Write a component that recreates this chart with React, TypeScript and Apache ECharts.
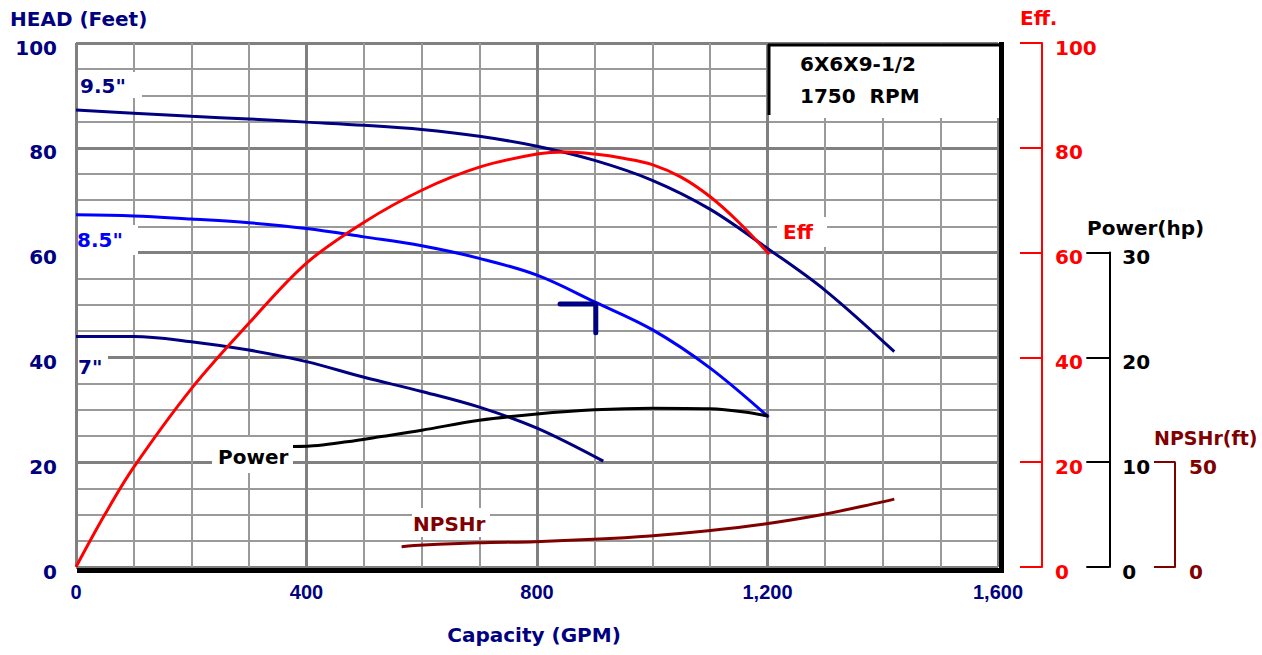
import { useEffect, useRef } from 'react';
import * as echarts from 'echarts';

// ---- data ----
const xTicks = [0, 400, 800, 1200, 1600];
const headTicks = [0, 20, 40, 60, 80, 100];

const imp95Gpm = [0, 100, 200, 300, 400, 500, 600, 700, 800, 900, 1000, 1100, 1200, 1300, 1420];
const imp95Head = [87.2, 86.6, 86.0, 85.5, 84.9, 84.3, 83.5, 82.2, 80.3, 77.6, 73.8, 68.3, 60.8, 52.8, 41.1];

const imp85Gpm = [0, 100, 200, 300, 400, 500, 600, 700, 800, 900, 1000, 1100, 1202];
const imp85Head = [67.2, 67.0, 66.4, 65.7, 64.6, 63.0, 61.3, 58.9, 55.7, 50.6, 45.3, 38.0, 28.6];

const imp7Gpm = [0, 100, 200, 300, 400, 500, 600, 700, 800, 915];
const imp7Head = [44.0, 44.0, 43.0, 41.4, 39.2, 36.2, 33.5, 30.5, 26.5, 20.2];

const effGpm = [0, 50, 100, 200, 300, 400, 500, 600, 700, 800, 850, 900, 950, 1000, 1050, 1100, 1150, 1203];
const effPct = [0, 10, 19, 34, 46.5, 58, 65.8, 71.9, 76.3, 78.8, 79.2, 78.8, 78.0, 76.8, 74.4, 70.7, 65.8, 59.7];

const powerGpm = [376, 420, 470, 530, 600, 700, 800, 900, 1000, 1100, 1160, 1201];
const powerHp = [11.5, 11.6, 11.95, 12.45, 13.05, 14.0, 14.6, 15.0, 15.15, 15.1, 14.8, 14.4];

const npshGpm = [565, 603, 698, 797, 898, 996, 1097, 1192, 1291, 1392, 1420];
const npshFt = [9.7, 10.5, 11.6, 12.1, 13.2, 14.8, 17.3, 20.4, 24.8, 30.6, 32.4];

const bepGpm = [840, 902, 902];
const bepHead = [50.2, 50.2, 44.7];

const effTicks = [0, 20, 40, 60, 80, 100];
const powerTicks = [0, 10, 20, 30];
const npshTicks = [0, 50];

// ---- styles ----
const NAVY = '#000080';
const BLUE = '#0000ff';
const RED = '#ff0000';
const DRED = '#800000';
const FONT = '"DejaVu Sans", sans-serif';
const BOLD = `bold 20px ${FONT}`;

const zip = (a: number[], b: number[]) => a.map((v, i) => [v, b[i]]);
const comma = (v: number) => String(Math.round(v)).replace(/\B(?=(\d{3})+(?!\d))/g, ',');

function App() {
  const ref = useRef<HTMLDivElement>(null);

  useEffect(() => {
    if (!ref.current) return;
    const chart = echarts.init(ref.current, undefined, { renderer: 'svg' });

    const majorLine = { show: true, lineStyle: { color: '#808080', width: 3 } };
    const minorLine = { show: true, lineStyle: { color: '#9a9a9a', width: 2 } };

    const yLabel = (color: string, margin: number) => ({
      color, fontFamily: FONT, fontWeight: 'bold', fontSize: 20, margin,
      verticalAlign: 'top', lineHeight: 9,
    });

    const whiteRect = (x: number, y: number, w: number, h: number) => ({
      type: 'rect', z: 50, shape: { x, y, width: w, height: h }, style: { fill: '#ffffff' },
    });
    const label = (text: string, x: number, y: number, color: string, align = 'left', font = BOLD) => ({
      type: 'text', z: 60, x, y,
      style: { text, fill: color, font, textAlign: align, textVerticalAlign: 'middle' },
    });

    const lineSeries = (name: string, data: number[][], color: string, yAxisIndex: number, width = 3, smooth: any = 0.35) => ({
      name, type: 'line', data, xAxisIndex: 0, yAxisIndex, symbol: 'none', smooth,
      lineStyle: { color, width }, itemStyle: { color }, z: 5,
    });

    const option: any = {
      animation: false,
      backgroundColor: '#ffffff',
      grid: [
        { left: 76, top: 43, width: 922, height: 524 },
        { left: 1000, top: 252.6, width: 109.3, height: 314.4 },
        { left: 1120, top: 462.2, width: 55, height: 104.8 },
      ],
      xAxis: [
        {
          gridIndex: 0, type: 'value', min: xTicks[0], max: xTicks[xTicks.length - 1], interval: xTicks[1] - xTicks[0],
          axisLine: { show: false }, axisTick: { show: false },
          axisLabel: { color: NAVY, fontFamily: '"Liberation Sans", Arial, sans-serif', fontWeight: 'bold', fontSize: 20, margin: 15, formatter: comma },
          splitLine: majorLine,
          minorTick: { show: false, splitNumber: 4 },
          minorSplitLine: minorLine,
        },
        { gridIndex: 1, type: 'value', show: false, min: 0, max: 1 },
        { gridIndex: 2, type: 'value', show: false, min: 0, max: 1 },
      ],
      yAxis: [
        {
          gridIndex: 0, type: 'value', position: 'left', min: headTicks[0], max: headTicks[headTicks.length - 1], interval: 20,
          axisLine: { show: false, onZero: false }, axisTick: { show: false },
          axisLabel: yLabel(NAVY, 19),
          splitLine: majorLine,
          minorTick: { show: false, splitNumber: 4 },
          minorSplitLine: minorLine,
        },
        {
          gridIndex: 0, type: 'value', position: 'right', offset: 44, min: effTicks[0], max: effTicks[effTicks.length - 1], interval: 20,
          axisLine: { show: true, onZero: false, lineStyle: { color: RED, width: 2 } },
          axisTick: { show: true, inside: true, length: 22, lineStyle: { color: RED, width: 2 } },
          axisLabel: yLabel(RED, 13),
          splitLine: { show: false },
        },
        { gridIndex: 0, type: 'value', show: false, min: 0, max: 50 },
        { gridIndex: 0, type: 'value', show: false, min: 0, max: 250 },
        {
          gridIndex: 1, type: 'value', position: 'right', min: powerTicks[0], max: powerTicks[powerTicks.length - 1], interval: 10,
          axisLine: { show: true, onZero: false, lineStyle: { color: '#000000', width: 2 } },
          axisTick: { show: true, inside: true, length: 23, lineStyle: { color: '#000000', width: 2 } },
          axisLabel: yLabel('#000000', 13),
          splitLine: { show: false },
        },
        {
          gridIndex: 2, type: 'value', position: 'right', min: npshTicks[0], max: npshTicks[npshTicks.length - 1], interval: 50,
          axisLine: { show: true, onZero: false, lineStyle: { color: DRED, width: 2 } },
          axisTick: { show: true, inside: true, length: 21, lineStyle: { color: DRED, width: 2 } },
          axisLabel: yLabel(DRED, 14),
          splitLine: { show: false },
        },
      ],
      series: [
        lineSeries('9.5"', zip(imp95Gpm, imp95Head), NAVY, 0),
        lineSeries('8.5"', zip(imp85Gpm, imp85Head), BLUE, 0),
        lineSeries('7"', zip(imp7Gpm, imp7Head), NAVY, 0),
        lineSeries('Eff', zip(effGpm, effPct), RED, 1),
        lineSeries('Power', zip(powerGpm, powerHp), '#000000', 2),
        lineSeries('NPSHr', zip(npshGpm, npshFt), DRED, 3),
        { ...lineSeries('BEP', zip(bepGpm, bepHead), NAVY, 0, 5, false), lineStyle: { color: NAVY, width: 5, cap: 'round' } },
      ],
      graphic: [
        // info box
        { type: 'rect', z: 50, shape: { x: 769, y: 44, width: 230, height: 74 }, style: { fill: '#ffffff' } },
        { type: 'line', z: 51, shape: { x1: 768, y1: 45, x2: 1000, y2: 45 }, style: { stroke: '#000000', lineWidth: 3 } },
        { type: 'line', z: 51, shape: { x1: 769, y1: 44, x2: 769, y2: 115 }, style: { stroke: '#000000', lineWidth: 3 } },
        label('6X6X9-1/2', 800, 64, '#000000'),
        label('1750  RPM', 800, 96, '#000000'),
        // curve labels
        whiteRect(78, 72, 64, 26), label('9.5"', 80, 86, NAVY),
        whiteRect(78, 225, 60, 30), label('8.5"', 77, 240, BLUE),
        whiteRect(78, 354, 30, 27), label('7"', 78, 367, NAVY),
        whiteRect(777, 217, 50, 30), label('Eff', 783, 232, RED),
        whiteRect(212, 437, 81, 36), label('Power', 218, 457, '#000000'),
        whiteRect(412, 508, 78, 29), label('NPSHr', 413, 524, DRED),
        // thick frame (right & bottom)
        { type: 'rect', z: 70, shape: { x: 999, y: 42, width: 5, height: 531 }, style: { fill: '#000000' } },
        { type: 'rect', z: 70, shape: { x: 77, y: 568, width: 927, height: 5 }, style: { fill: '#000000' } },
        // titles
        label('HEAD (Feet)', 10, 19, NAVY),
        label('Eff.', 1020, 18, RED),
        label('Capacity (GPM)', 534, 635, NAVY, 'center'),
        label('Power(hp)', 1087, 228, '#000000'),
        label('NPSHr(ft)', 1154, 438, DRED, 'left', `bold 19px ${FONT}`),
      ],
    };

    chart.setOption(option);
    return () => chart.dispose();
  }, []);

  return (
    <div
      ref={ref}
      style={{ position: 'absolute', left: 0, top: 0, width: 1262, height: 655, background: '#fff' }}
    />
  );
}

export default App;
